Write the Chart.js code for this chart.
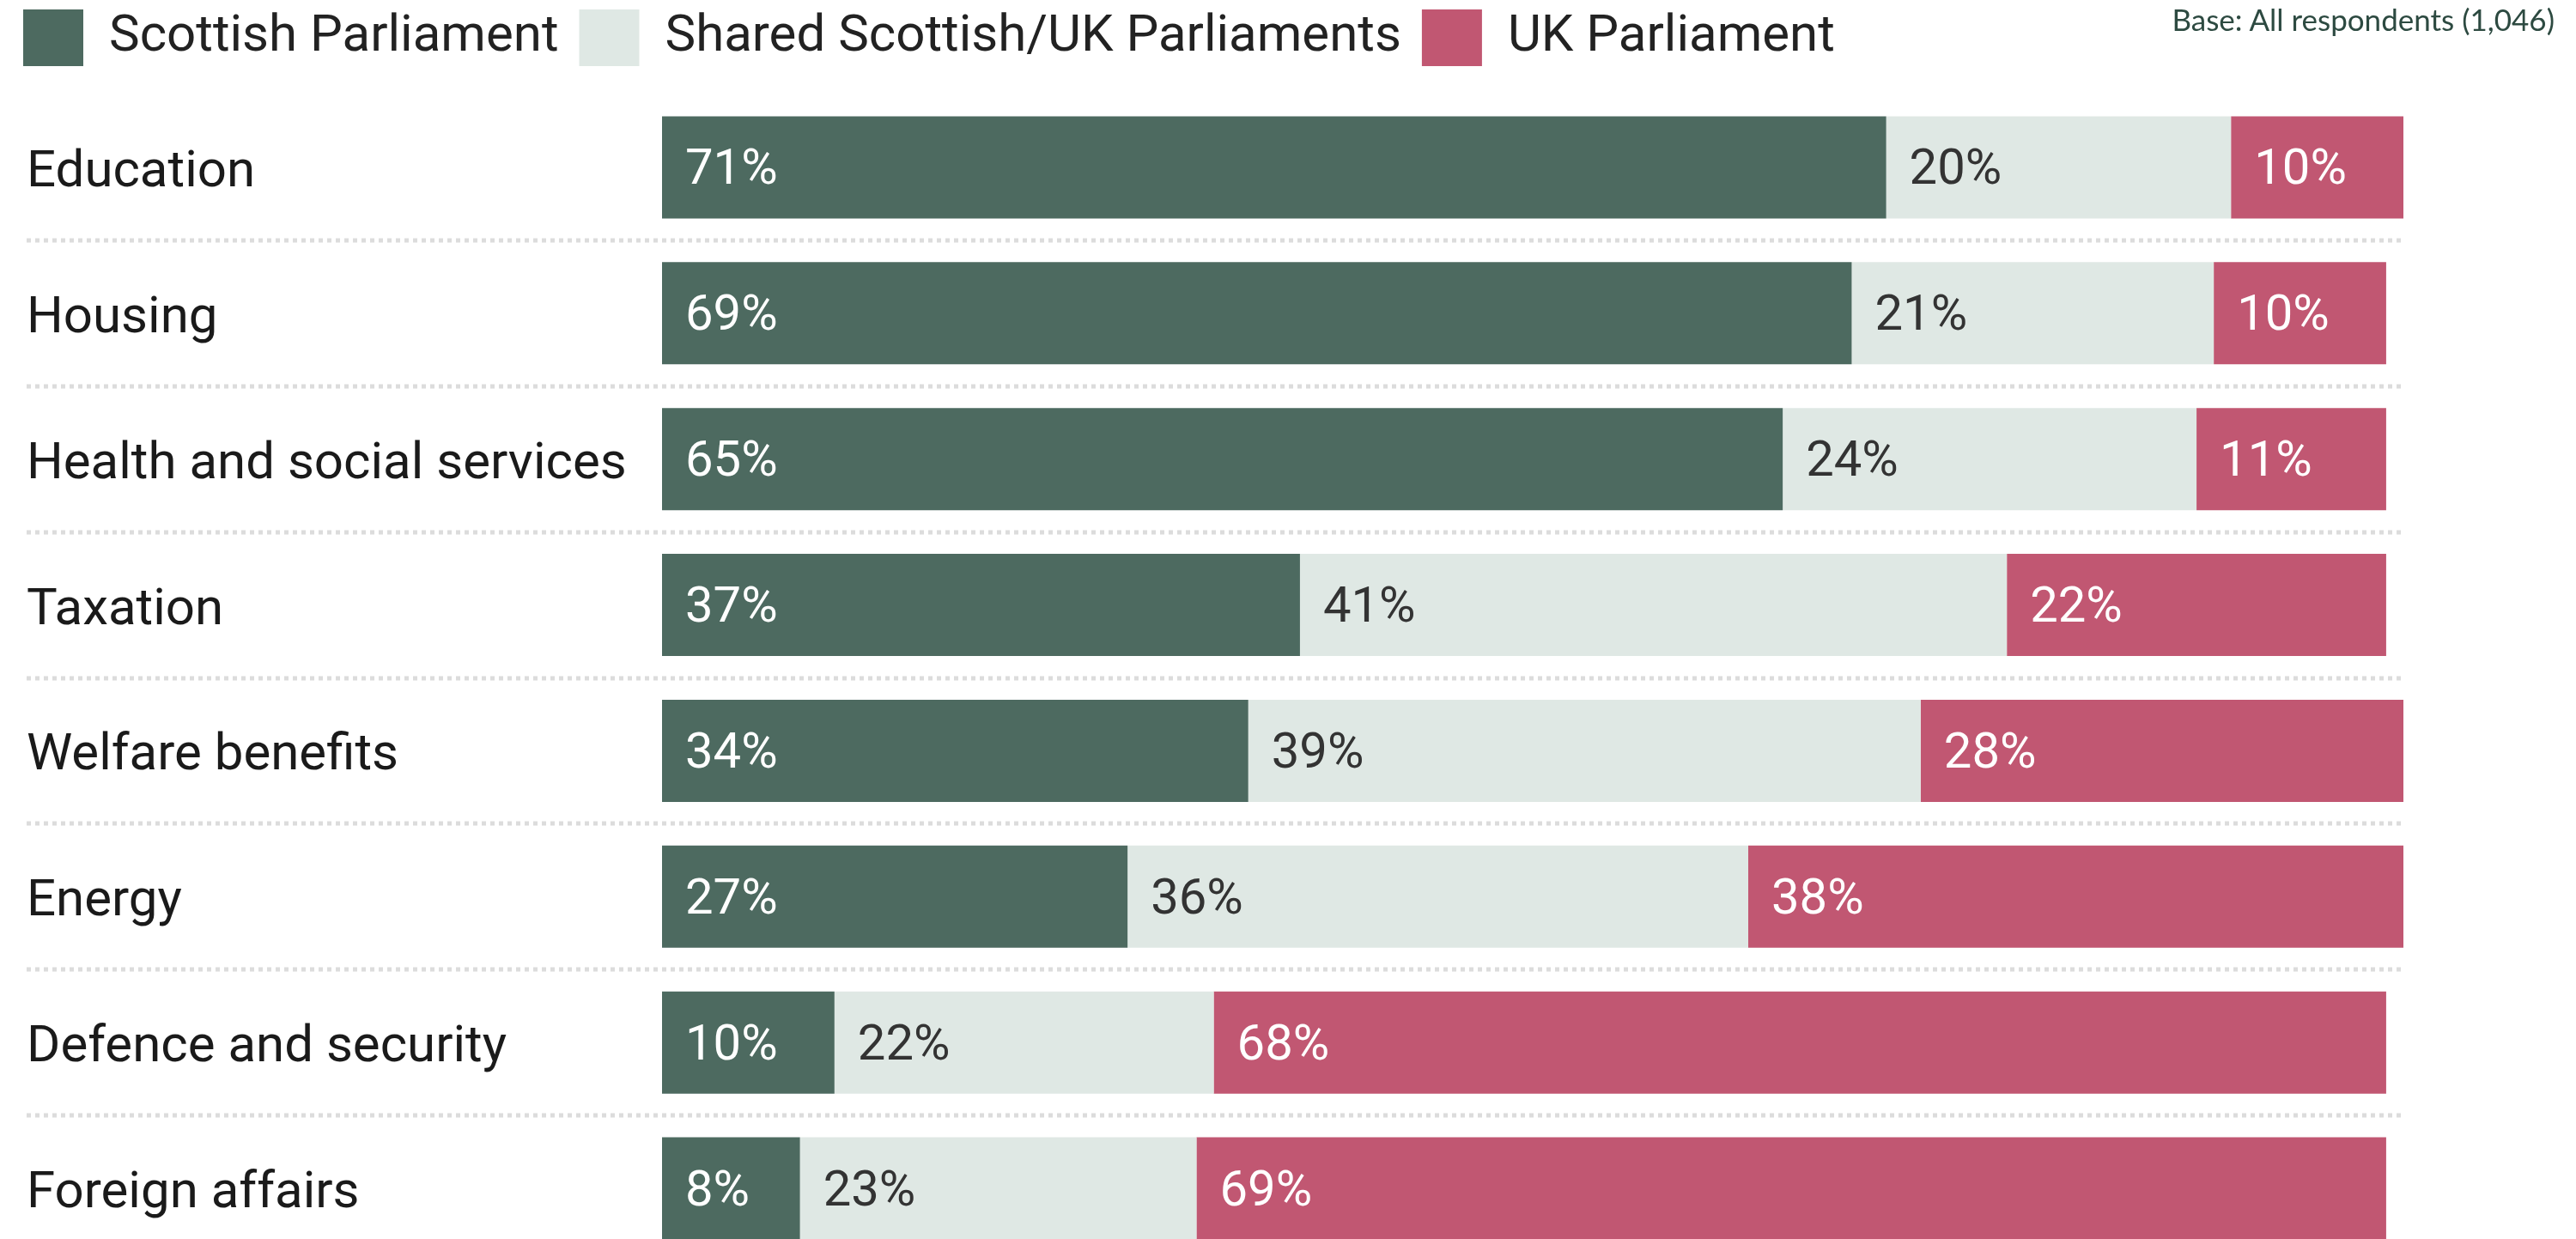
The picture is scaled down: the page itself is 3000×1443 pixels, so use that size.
<!DOCTYPE html>
<html>
<head>
<meta charset="utf-8">
<script src="https://cdn.jsdelivr.net/npm/chart.js@4/dist/chart.umd.min.js"></script>
<style>
  html, body { margin: 0; padding: 0; background: #fff; overflow: hidden; }
  #wrap { position: relative; width: 3000px; height: 1508px; }
  #base {
    position: absolute; right: 25px; top: 1px;
    font-family: Lato, "Open Sans", sans-serif; font-size: 35px; color: #2d4a41;
  }
</style>
</head>
<body>
<div id="wrap">
  <canvas id="chart" width="3000" height="1508"></canvas>
  <div id="base">Base: All respondents (1,046)</div>
</div>
<script>
// dữ liệu
const categories = ["Education", "Housing", "Health and social services", "Taxation",
  "Welfare benefits", "Energy", "Defence and security", "Foreign affairs"];
const scottish = [71, 69, 65, 37, 34, 27, 10, 8];
const shared = [20, 21, 24, 41, 39, 36, 22, 23];
const uk = [10, 10, 11, 22, 28, 38, 68, 69];
const seriesNames = ["Scottish Parliament", "Shared Scottish/UK Parliaments", "UK Parliament"];
const seriesColors = ["#4d6a60", "#dfe8e4", "#c15772"];
const labelColors = ["#ffffff", "#333333", "#ffffff"];

// đường chấm ngăn cách giữa các hàng
const separators = {
  id: "separators",
  beforeDatasetsDraw(chart) {
    const y = chart.scales.y;
    const ctx = chart.ctx;
    const half = (y.getPixelForValue(1) - y.getPixelForValue(0)) / 2;
    ctx.save();
    ctx.strokeStyle = "#dcdcdc";
    ctx.lineWidth = 5;
    ctx.setLineDash([5, 5]);
    for (let i = 0; i < categories.length; i++) {
      const yy = Math.round(y.getPixelForValue(i) + half);
      ctx.beginPath();
      ctx.moveTo(y.left, yy);
      ctx.lineTo(chart.chartArea.right, yy);
      ctx.stroke();
    }
    ctx.restore();
  }
};

// nhãn % trong thanh
const barLabels = {
  id: "barLabels",
  afterDatasetsDraw(chart) {
    const ctx = chart.ctx;
    ctx.save();
    ctx.font = "58px Roboto";
    ctx.textBaseline = "middle";
    ctx.textAlign = "left";
    chart.data.datasets.forEach((ds, di) => {
      const meta = chart.getDatasetMeta(di);
      ctx.fillStyle = labelColors[di];
      meta.data.forEach((bar, i) => {
        const start = Math.min(bar.base, bar.x);
        ctx.fillText(ds.data[i] + "%", start + 27, bar.y + 5);
      });
    });
    ctx.restore();
  }
};

// legend: thêm khoảng trống phía dưới và dịch sang trái một chút
const legendTweak = {
  id: "legendTweak",
  beforeInit(chart) {
    const fit = chart.legend.fit;
    chart.legend.fit = function () {
      fit.bind(chart.legend)();
      this.height += 23;
    };
  },
  afterLayout(chart) {
    chart.legend.left -= 28;
  }
};

const datasets = [scottish, shared, uk].map((vals, i) => ({
  label: seriesNames[i],
  data: vals,
  backgroundColor: seriesColors[i],
  borderWidth: 0,
  barPercentage: 0.7,
  categoryPercentage: 1
}));

new Chart(document.getElementById("chart"), {
  type: "bar",
  data: { labels: categories, datasets },
  options: {
    indexAxis: "y",
    responsive: false,
    devicePixelRatio: 1,
    animation: false,
    layout: { padding: { left: 31, right: 201, top: -13, bottom: 0 } },
    plugins: {
      legend: {
        position: "top",
        align: "start",
        labels: {
          boxWidth: 70,
          boxHeight: 66,
          padding: 24,
          color: "#222",
          font: { family: "Roboto", size: 60 }
        }
      },
      tooltip: { enabled: false }
    },
    scales: {
      x: { stacked: true, min: 0, max: 101, display: false },
      y: {
        stacked: true,
        grid: { display: false },
        border: { display: false },
        ticks: {
          crossAlign: "far",
          labelOffset: 7,
          color: "#1a1a1a",
          font: { family: "Roboto", size: 60 }
        },
        afterFit(scale) { scale.width = 740; }
      }
    }
  },
  plugins: [legendTweak, separators, barLabels]
});
</script>
</body>
</html>
